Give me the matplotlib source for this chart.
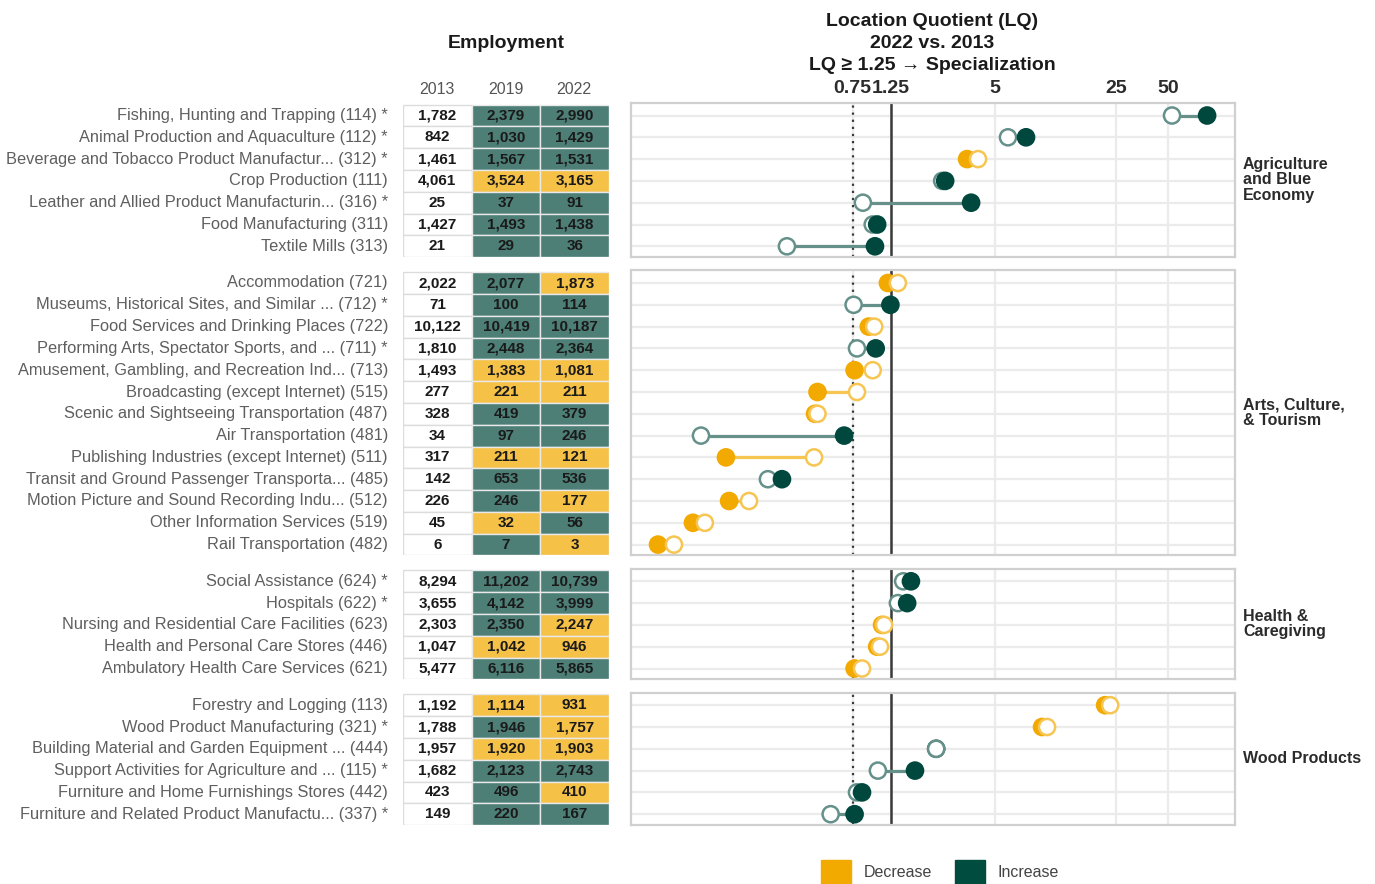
import numpy as np
import pandas as pd
import matplotlib
matplotlib.use("Agg")
import matplotlib.pyplot as plt
from matplotlib.patches import Patch
from matplotlib.colors import to_rgb

plt.rcParams["font.family"] = ["Liberation Sans", "DejaVu Sans"]

# --- data ---------------------------------------------------------------
groups = ["Agriculture\nand Blue\nEconomy", "Arts, Culture,\n& Tourism",
          "Health &\nCaregiving", "Wood Products"]
group_sizes = [7, 13, 5, 6]

industries = [
    "Fishing, Hunting and Trapping (114) *",
    "Animal Production and Aquaculture (112) *",
    "Beverage and Tobacco Product Manufactur... (312) *",
    "Crop Production (111)",
    "Leather and Allied Product Manufacturin... (316) *",
    "Food Manufacturing (311)",
    "Textile Mills (313)",
    "Accommodation (721)",
    "Museums, Historical Sites, and Similar ... (712) *",
    "Food Services and Drinking Places (722)",
    "Performing Arts, Spectator Sports, and ... (711) *",
    "Amusement, Gambling, and Recreation Ind... (713)",
    "Broadcasting (except Internet) (515)",
    "Scenic and Sightseeing Transportation (487)",
    "Air Transportation (481)",
    "Publishing Industries (except Internet) (511)",
    "Transit and Ground Passenger Transporta... (485)",
    "Motion Picture and Sound Recording Indu... (512)",
    "Other Information Services (519)",
    "Rail Transportation (482)",
    "Social Assistance (624) *",
    "Hospitals (622) *",
    "Nursing and Residential Care Facilities (623)",
    "Health and Personal Care Stores (446)",
    "Ambulatory Health Care Services (621)",
    "Forestry and Logging (113)",
    "Wood Product Manufacturing (321) *",
    "Building Material and Garden Equipment ... (444)",
    "Support Activities for Agriculture and ... (115) *",
    "Furniture and Home Furnishings Stores (442)",
    "Furniture and Related Product Manufactu... (337) *",
]

emp_2013 = [1782, 842, 1461, 4061, 25, 1427, 21,
            2022, 71, 10122, 1810, 1493, 277, 328, 34, 317, 142, 226, 45, 6,
            8294, 3655, 2303, 1047, 5477,
            1192, 1788, 1957, 1682, 423, 149]
emp_2019 = [2379, 1030, 1567, 3524, 37, 1493, 29,
            2077, 100, 10419, 2448, 1383, 221, 419, 97, 211, 653, 246, 32, 7,
            11202, 4142, 2350, 1042, 6116,
            1114, 1946, 1920, 2123, 496, 220]
emp_2022 = [2990, 1429, 1531, 3165, 91, 1438, 36,
            1873, 114, 10187, 2364, 1081, 211, 379, 246, 121, 536, 177, 56, 3,
            10739, 3999, 2247, 946, 5865,
            931, 1757, 1903, 2743, 410, 167]

lq_2013 = [52.6, 5.93, 3.98, 2.47, 0.86, 0.98, 0.313,
           1.37, 0.76, 1.00, 0.795, 0.98, 0.795, 0.47, 0.0997, 0.449, 0.243, 0.189, 0.105, 0.0696,
           1.47, 1.37, 1.14, 1.08, 0.85,
           23.1, 9.97, 2.28, 1.05, 0.795, 0.56]
lq_2022 = [83.9, 7.54, 3.44, 2.57, 3.63, 1.04, 1.01,
           1.20, 1.24, 0.93, 1.02, 0.77, 0.47, 0.455, 0.67, 0.139, 0.293, 0.145, 0.0896, 0.0563,
           1.63, 1.55, 1.11, 1.04, 0.77,
           21.6, 9.33, 2.28, 1.72, 0.85, 0.77]

years = ["2013", "2019", "2022"]
lq_ticks = [0.75, 1.25, 5, 25, 50]

df = pd.DataFrame({
    "industry": industries,
    "group": np.repeat(groups, group_sizes),
    "e2013": emp_2013, "e2019": emp_2019, "e2022": emp_2022,
    "lq2013": lq_2013, "lq2022": lq_2022,
})
df["increase"] = df["lq2022"] >= df["lq2013"]

# --- style --------------------------------------------------------------
GREEN = "#00483d"
GOLD = "#f2a900"


def tint(color, alpha):
    r, g, b = to_rgb(color)
    return (1 - alpha + alpha * r, 1 - alpha + alpha * g, 1 - alpha + alpha * b)


CELL_UP, CELL_DOWN = tint(GREEN, 0.7), tint(GOLD, 0.72)
RING_UP, RING_DOWN = tint(GREEN, 0.6), tint(GOLD, 0.68)

W, H = 1375, 884
ROW = 21.8
fig = plt.figure(figsize=(W / 100, H / 100), dpi=100)


def rect(x0, y0, x1, y1):
    return [x0 / W, 1 - y1 / H, (x1 - x0) / W, (y1 - y0) / H]


top = 103
for gi, (gname, sub) in enumerate(df.groupby("group", sort=False)):
    n = len(sub)
    height = (n - 1) * ROW + 23
    bottom = top + height
    ylim = (n - 1 + 10.5 / ROW, -12.5 / ROW)
    rows = np.arange(n)

    # employment table
    tab = fig.add_axes(rect(403, top, 609, bottom))
    tab.set_xlim(0, 3)
    tab.set_ylim(*ylim)
    tab.axis("off")
    for i, r in enumerate(sub.itertuples()):
        vals = [r.e2013, r.e2019, r.e2022]
        for j, v in enumerate(vals):
            if j == 0:
                fc, ec = "white", "#dcdcdc"
            else:
                fc = CELL_UP if v > r.e2013 else CELL_DOWN
                ec = "#e9e9e9"
            tab.barh(i, 1, left=j, height=1, color=fc, edgecolor=ec, linewidth=1)
            tab.text(j + 0.5, i, f"{v:,}", ha="center", va="center",
                     fontsize=11, fontweight="bold", color="#1a1a1a")
        tab.text(-0.22, i, r.industry, ha="right", va="center",
                 fontsize=11.75, color="#5f5f5f")

    # location quotient dumbbells
    ax = fig.add_axes(rect(631, top, 1235, bottom))
    ax.set_xscale("log")
    ax.set_xlim(0.0393, 121.6)
    ax.set_ylim(*ylim)
    ax.minorticks_off()
    ax.set_xticks(lq_ticks)
    ax.set_yticks(rows)
    ax.grid(True, color="#ebebeb", linewidth=1.6)
    ax.set_axisbelow(True)
    for s in ax.spines.values():
        s.set_color("#d0d0d0")
        s.set_linewidth(1.6)
    ax.tick_params(length=0, labelleft=False, labelbottom=False)
    if gi == 0:
        ax.xaxis.set_ticks_position("top")
        ax.set_xticklabels([f"{t:g}" for t in lq_ticks], fontsize=14,
                           fontweight="bold", color="#2b2b2b")
        ax.tick_params(axis="x", pad=4, labeltop=True)
    else:
        ax.tick_params(labeltop=False)

    ax.axvline(0.75, color="#3a3a3a", linestyle=(0, (1, 2.2)), linewidth=1.6, zorder=1.5)
    ax.axvline(1.25, color="#3a3a3a", linewidth=1.8, zorder=1.5)

    up = sub["increase"].to_numpy()
    ax.hlines(rows, sub["lq2013"], sub["lq2022"],
              colors=np.where(up[:, None], RING_UP, RING_DOWN), linewidth=2.3, zorder=2)

    # both years in one collection, drawn left to right (2013 wins ties)
    px = np.concatenate([sub["lq2022"], sub["lq2013"]])
    py = np.concatenate([rows, rows])
    face = [GREEN if u else GOLD for u in up] + ["white"] * n
    edge = [GREEN if u else GOLD for u in up] + [RING_UP if u else RING_DOWN for u in up]
    order = np.argsort(px, kind="stable")
    ax.scatter(px[order], py[order], s=135,
               facecolors=[face[k] for k in order],
               edgecolors=[edge[k] for k in order],
               linewidths=1.8, zorder=3)

    fig.text(1243 / W, 1 - (top + height / 2) / H, gname, ha="left", va="center",
             fontsize=11.5, fontweight="bold", color="#2b2b2b", linespacing=1.05)

    top = bottom + 13.7

# --- headers ------------------------------------------------------------
fig.text(506 / W, 1 - 44 / H, "Employment", ha="center", va="center",
         fontsize=14, fontweight="bold", color="#1a1a1a")
for x, yr in zip([437, 506, 574], years):
    fig.text(x / W, 1 - 89 / H, yr, ha="center", va="center",
             fontsize=11.5, color="#555555")

for y, line in zip([22, 44, 66], ["Location Quotient (LQ)", "2022 vs. 2013",
                                   "LQ \u2265 1.25 \u2192 Specialization"]):
    fig.text(932 / W, 1 - y / H, line, ha="center", va="center",
             fontsize=14, fontweight="bold", color="#1a1a1a")

fig.legend(handles=[Patch(color=GOLD, label="Decrease"),
                    Patch(color="#004d40", label="Increase")],
           loc="center", bbox_to_anchor=(940 / W, 1 - 872 / H), ncol=2,
           frameon=False, fontsize=11.5, labelcolor="#444444",
           handlelength=1.9, handleheight=1.9, handletextpad=0.8,
           columnspacing=1.4)

fig.savefig("out.png", dpi=100)
